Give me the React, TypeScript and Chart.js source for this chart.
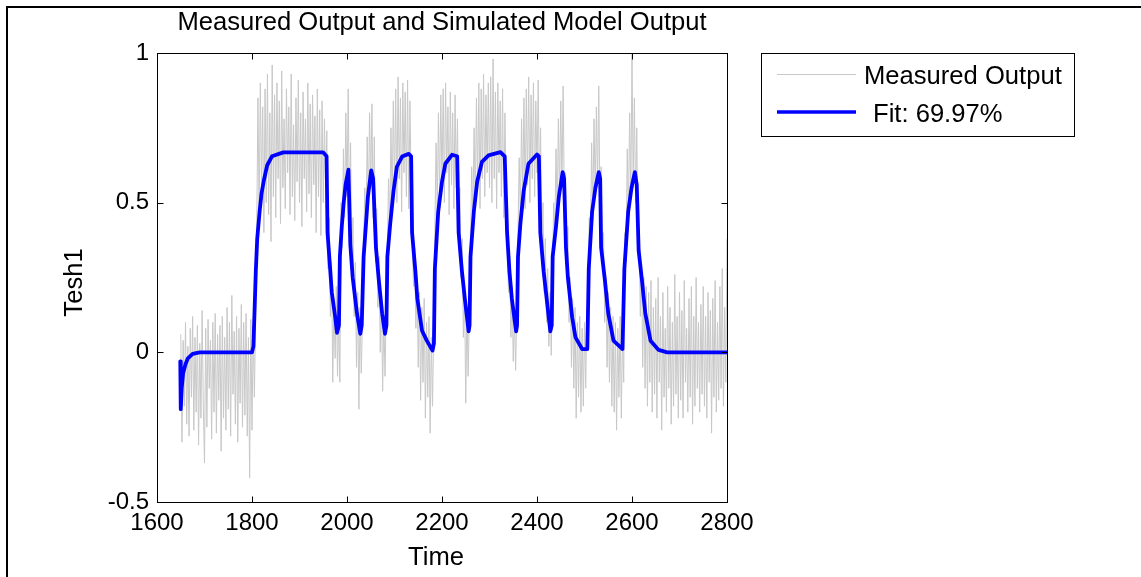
import React, { useEffect, useRef } from "react";
import { Chart, registerables } from "chart.js";

Chart.register(...registerables);

const titleText = "Measured Output and Simulated Model Output";
const xAxisTitle = "Time";
const yAxisTitle = "Tesh1";
const measuredLabel = "Measured Output";
const fitLabel = "Fit: 69.97%";

const xTicks = [1600, 1800, 2000, 2200, 2400, 2600, 2800];
const yTicks = [-0.5, 0, 0.5, 1];

// Measured output: sampled every 2.5 time units from 1650 (one row = 50 time units)
const measuredStart = 1650;
const measuredStep = 2.5;
const measuredValues = [
  0.06, -0.3, 0.04, -0.18, 0.1, -0.24, 0.02, -0.28, 0.08, -0.15, 0.12, -0.26, 0.05, -0.2, 0.09, -0.31, 0.03, -0.22, 0.14, -0.18,
  -0.37, 0.08, -0.25, 0.11, -0.12, 0.04, -0.29, 0.1, -0.2, 0.13, -0.27, 0.06, -0.16, 0.09, -0.33, 0.12, -0.22, 0.05, -0.26, 0.15,
  -0.19, 0.1, -0.28, 0.19, -0.14, 0.07, -0.24, 0.12, -0.3, 0.08, -0.17, 0.16, -0.25, 0.1, -0.21, 0.13, -0.28, 0.05, -0.42, 0.11,
  -0.26, 0.09, -0.15, 0.12, 0.42, 0.85, 0.45, 0.9, 0.55, 0.82, 0.4, 0.88, 0.5, 0.93, 0.46, 0.8, 0.37, 0.96, 0.52, 0.86,
  0.45, 0.9, 0.58, 0.84, 0.43, 0.94, 0.55, 0.78, 0.48, 0.88, 0.6, 0.82, 0.46, 0.93, 0.52, 0.76, 0.44, 0.85, 0.57, 0.91,
  0.5, 0.8, 0.42, 0.87, 0.58, 0.78, 0.47, 0.9, 0.53, 0.83, 0.45, 0.86, 0.56, 0.79, 0.4, 0.88, 0.52, 0.81, 0.39, 0.84,
  0.5, 0.78, 0.55, 0.74, 0.28, 0.45, 0.12, 0.3, -0.1, 0.18, -0.02, 0.22, -0.08, 0.12, -0.1, 0.5, 0.35, 0.68, 0.45, 0.8,
  0.52, 0.88, 0.48, 0.7, 0.3, 0.45, 0.12, 0.3, -0.05, 0.2, -0.19, 0.15, -0.07, 0.1, 0.35, 0.55, 0.4, 0.72, 0.48, 0.8,
  0.55, 0.83, 0.45, 0.72, 0.3, 0.48, 0.15, 0.32, 0.0, 0.2, -0.13, 0.12, -0.08, 0.15, 0.35, 0.58, 0.42, 0.75, 0.5, 0.84,
  0.55, 0.88, 0.5, 0.92, 0.58, 0.85, 0.47, 0.9, 0.6, 0.87, 0.52, 0.91, 0.48, 0.84, 0.55, 0.37, 0.22, 0.35, 0.08, 0.25,
  -0.05, 0.2, -0.16, 0.15, -0.1, 0.18, -0.22, 0.1, -0.15, 0.12, -0.27, 0.05, -0.18, 0.08, 0.4, 0.7, 0.48, 0.8, 0.52, 0.86,
  0.55, 0.88, 0.5, 0.9, 0.6, 0.82, 0.46, 0.87, 0.56, 0.8, 0.48, 0.86, 0.55, 0.78, 0.4, 0.55, 0.25, 0.38, 0.05, 0.2,
  -0.17, 0.15, -0.08, 0.12, 0.35, 0.62, 0.45, 0.75, 0.5, 0.85, 0.55, 0.9, 0.48, 0.88, 0.58, 0.93, 0.52, 0.86, 0.6, 0.9,
  0.55, 0.92, 0.5, 0.98, 0.58, 0.87, 0.48, 0.9, 0.6, 0.84, 0.52, 0.88, 0.45, 0.8, 0.5, 0.35, 0.2, 0.32, 0.05, 0.22,
  -0.03, 0.12, -0.06, 0.15, 0.4, 0.65, 0.45, 0.78, 0.52, 0.85, 0.48, 0.88, 0.56, 0.92, 0.5, 0.86, 0.58, 0.9, 0.52, 0.84,
  0.6, 0.91, 0.55, 0.75, 0.35, 0.5, 0.2, 0.38, 0.1, 0.28, 0.02, 0.2, -0.01, 0.25, 0.5, 0.4, 0.68, 0.45, 0.78, 0.52,
  0.84, 0.55, 0.89, 0.5, 0.6, 0.3, 0.42, 0.1, 0.25, -0.05, 0.18, -0.12, 0.15, -0.22, 0.1, -0.15, 0.12, -0.2, 0.08, -0.18,
  0.1, -0.12, 0.15, 0.05, 0.45, 0.35, 0.7, 0.45, 0.78, 0.52, 0.82, 0.55, 0.89, 0.5, 0.62, 0.3, 0.4, 0.1, 0.25, -0.05,
  0.2, -0.1, 0.15, -0.18, 0.12, -0.2, 0.1, -0.26, 0.08, -0.15, 0.12, -0.22, 0.06, -0.1, 0.4, 0.3, 0.68, 0.45, 0.8, 0.52,
  1.0, 0.55, 0.85, 0.5, 0.75, 0.35, 0.4, 0.12, 0.3, -0.05, 0.25, -0.12, 0.22, -0.18, 0.2, -0.1, 0.24, -0.2, 0.15, -0.14,
  0.18, -0.22, 0.25, -0.1, 0.12, -0.26, 0.2, -0.15, 0.08, -0.2, 0.22, -0.12, 0.15, -0.24, 0.1, -0.18, 0.26, -0.14, 0.12, -0.22,
  0.2, -0.16, 0.14, -0.22, 0.24, -0.1, 0.08, -0.2, 0.18, -0.15, 0.22, -0.24, 0.12, -0.18, 0.25, -0.12, 0.1, -0.2, 0.16, -0.14,
  0.22, -0.18, 0.12, -0.22, 0.2, -0.1, 0.14, -0.27, 0.18, -0.15, 0.24, -0.2, 0.1, -0.16, 0.22, -0.12, 0.28, -0.18, 0.15, -0.1,
  0.38,
];

// Simulated model output (fit)
const fitTimes = [
  1649, 1650, 1652, 1655, 1660, 1665, 1675, 1690, 1800, 1803,
  1808, 1811, 1816, 1820, 1825, 1832, 1842, 1866, 1950, 1957,
  1959, 1964, 1968, 1975, 1979, 1983, 1985, 1989, 1993, 1997,
  2003, 2007, 2012, 2021, 2028, 2031, 2035, 2040, 2044, 2051,
  2055, 2061, 2067, 2074, 2080, 2083, 2085, 2091, 2098, 2105,
  2116, 2130, 2135, 2137, 2144, 2148, 2158, 2168, 2180, 2183,
  2185, 2192, 2200, 2207, 2221, 2232, 2235, 2242, 2248, 2256,
  2258, 2260, 2267, 2274, 2284, 2298, 2323, 2332, 2337, 2342,
  2347, 2356, 2358, 2360, 2365, 2372, 2382, 2400, 2404, 2407,
  2414, 2421, 2428, 2431, 2433, 2440, 2446, 2454, 2457, 2461,
  2465, 2474, 2481, 2495, 2506, 2509, 2516, 2523, 2530, 2533,
  2535, 2543, 2550, 2561, 2580, 2584, 2592, 2599, 2606, 2610,
  2614, 2621, 2628, 2639, 2656, 2674, 2800,
];
const fitValues = [
  -0.03, -0.19, -0.12, -0.07, -0.04, -0.02, -0.005, 0, 0, 0.02,
  0.27, 0.38, 0.47, 0.53, 0.575, 0.625, 0.655, 0.668, 0.668, 0.655,
  0.4, 0.29, 0.2, 0.12, 0.065, 0.09, 0.32, 0.42, 0.5, 0.56,
  0.61, 0.36, 0.25, 0.13, 0.062, 0.09, 0.32, 0.43, 0.52, 0.608,
  0.58, 0.35, 0.24, 0.13, 0.062, 0.09, 0.32, 0.43, 0.54, 0.62,
  0.654, 0.663, 0.655, 0.4, 0.27, 0.18, 0.072, 0.039, 0.006, 0.03,
  0.28, 0.47, 0.57, 0.63, 0.66, 0.655, 0.4, 0.27, 0.18, 0.07,
  0.09, 0.32, 0.47, 0.57, 0.636, 0.658, 0.669, 0.655, 0.4, 0.27,
  0.18, 0.07, 0.09, 0.32, 0.43, 0.54, 0.63, 0.661, 0.655, 0.4,
  0.27, 0.17, 0.07, 0.09, 0.32, 0.42, 0.52, 0.602, 0.58, 0.35,
  0.25, 0.117, 0.05, 0.011, 0.011, 0.28, 0.47, 0.55, 0.602, 0.58,
  0.35, 0.24, 0.13, 0.039, 0.011, 0.28, 0.47, 0.55, 0.602, 0.56,
  0.34, 0.24, 0.13, 0.039, 0.008, 0, 0,
];

const FONT = "'Liberation Sans', Arial, Helvetica, sans-serif";

const decorPlugin = {
  id: "decor",
  beforeDraw(chart: any) {
    const { ctx } = chart;
    ctx.save();
    ctx.fillStyle = "#ffffff";
    ctx.fillRect(0, 0, chart.width, chart.height);
    ctx.restore();
  },
  afterDraw(chart: any) {
    const { ctx, chartArea: a, scales } = chart;
    const L = Math.round(a.left) + 0.5;
    const R = Math.round(a.right) + 0.5;
    const T = Math.round(a.top) + 0.5;
    const B = Math.round(a.bottom) + 0.5;
    ctx.save();
    // figure frame (left + top edges)
    ctx.fillStyle = "#000";
    ctx.fillRect(6, 6, 2, chart.height);
    ctx.fillRect(6, 6, chart.width, 2);
    // axes box
    ctx.strokeStyle = "#000";
    ctx.lineWidth = 1;
    ctx.strokeRect(L, T, R - L, B - T);
    // inward ticks
    const tl = 6;
    ctx.beginPath();
    xTicks.forEach((v) => {
      const px = Math.round(scales.x.getPixelForValue(v)) + 0.5;
      ctx.moveTo(px, B);
      ctx.lineTo(px, B - tl);
      ctx.moveTo(px, T);
      ctx.lineTo(px, T + tl);
    });
    yTicks.forEach((v) => {
      const py = Math.round(scales.y.getPixelForValue(v)) + 0.5;
      ctx.moveTo(L, py);
      ctx.lineTo(L + tl, py);
      ctx.moveTo(R, py);
      ctx.lineTo(R - tl, py);
    });
    ctx.stroke();

    const cx = (a.left + a.right) / 2;
    // title
    ctx.fillStyle = "#000";
    ctx.font = `25.6px ${FONT}`;
    ctx.textAlign = "center";
    ctx.textBaseline = "alphabetic";
    ctx.fillText(titleText, cx, a.top - 23);
    // x axis title
    ctx.fillText(xAxisTitle, cx - 6, a.bottom + 63);
    // y axis title
    ctx.save();
    ctx.translate(a.left - 75, (a.top + a.bottom) / 2 + 5);
    ctx.rotate(-Math.PI / 2);
    ctx.fillText(yAxisTitle, 0, 0);
    ctx.restore();

    // legend
    const lx = a.right + 34;
    const ly = a.top;
    const lw = 313;
    const lh = 83;
    ctx.strokeStyle = "#000";
    ctx.lineWidth = 1;
    ctx.strokeRect(Math.round(lx) + 0.5, Math.round(ly) + 0.5, lw, lh);
    ctx.beginPath();
    ctx.strokeStyle = "#c8c8c8";
    ctx.lineWidth = 1;
    ctx.moveTo(lx + 16, ly + 21.5);
    ctx.lineTo(lx + 95, ly + 21.5);
    ctx.stroke();
    ctx.beginPath();
    ctx.strokeStyle = "#0000ff";
    ctx.lineWidth = 3.5;
    ctx.moveTo(lx + 16, ly + 59);
    ctx.lineTo(lx + 95, ly + 59);
    ctx.stroke();
    ctx.fillStyle = "#000";
    ctx.textAlign = "left";
    ctx.fillText(measuredLabel, lx + 103, ly + 31);
    ctx.fillText(fitLabel, lx + 112, ly + 69);
    ctx.restore();
  },
};

export default function App() {
  const ref = useRef<HTMLCanvasElement | null>(null);
  useEffect(() => {
    document.body.style.margin = "0";
    const canvas = ref.current;
    if (!canvas) return;
    const measuredData = measuredValues.map((y, i) => ({
      x: measuredStart + i * measuredStep,
      y,
    }));
    const fitData = fitTimes.map((x, i) => ({ x, y: fitValues[i] }));
    const chart = new Chart(canvas, {
      type: "line",
      data: {
        datasets: [
          {
            label: measuredLabel,
            data: measuredData,
            borderColor: "#c8c8c8",
            borderWidth: 1,
            pointRadius: 0,
            tension: 0,
            order: 2,
          },
          {
            label: fitLabel,
            data: fitData,
            borderColor: "#0000ff",
            borderWidth: 3.8,
            pointRadius: 0,
            tension: 0,
            borderJoinStyle: "round",
            borderCapStyle: "round",
            order: 1,
          },
        ],
      },
      options: {
        animation: false,
        responsive: false,
        maintainAspectRatio: false,
        layout: { padding: { left: 0, right: 414, top: 53, bottom: 0 } },
        plugins: {
          legend: { display: false },
          title: { display: false },
          tooltip: { enabled: false },
        },
        scales: {
          x: {
            type: "linear",
            min: 1600,
            max: 2800,
            grid: { display: false, drawTicks: false },
            border: { display: false },
            afterBuildTicks: (s: any) => {
              s.ticks = xTicks.map((v) => ({ value: v }));
            },
            afterFit: (s: any) => {
              s.height = 75;
            },
            ticks: {
              color: "#000",
              padding: 7,
              maxRotation: 0,
              autoSkip: false,
              font: { family: FONT, size: 24 },
              callback: (v: any) => String(v),
            },
          },
          y: {
            type: "linear",
            min: -0.5,
            max: 1,
            grid: { display: false, drawTicks: false },
            border: { display: false },
            afterBuildTicks: (s: any) => {
              s.ticks = yTicks.map((v) => ({ value: v }));
            },
            afterFit: (s: any) => {
              s.width = 157;
            },
            ticks: {
              color: "#000",
              padding: 8,
              autoSkip: false,
              font: { family: FONT, size: 24 },
              callback: (v: any) => String(v),
            },
          },
        },
      },
      plugins: [decorPlugin],
    });
    return () => chart.destroy();
  }, []);
  return (
    <canvas
      ref={ref}
      width={1141}
      height={577}
      style={{ display: "block", width: 1141, height: 577 }}
    />
  );
}
